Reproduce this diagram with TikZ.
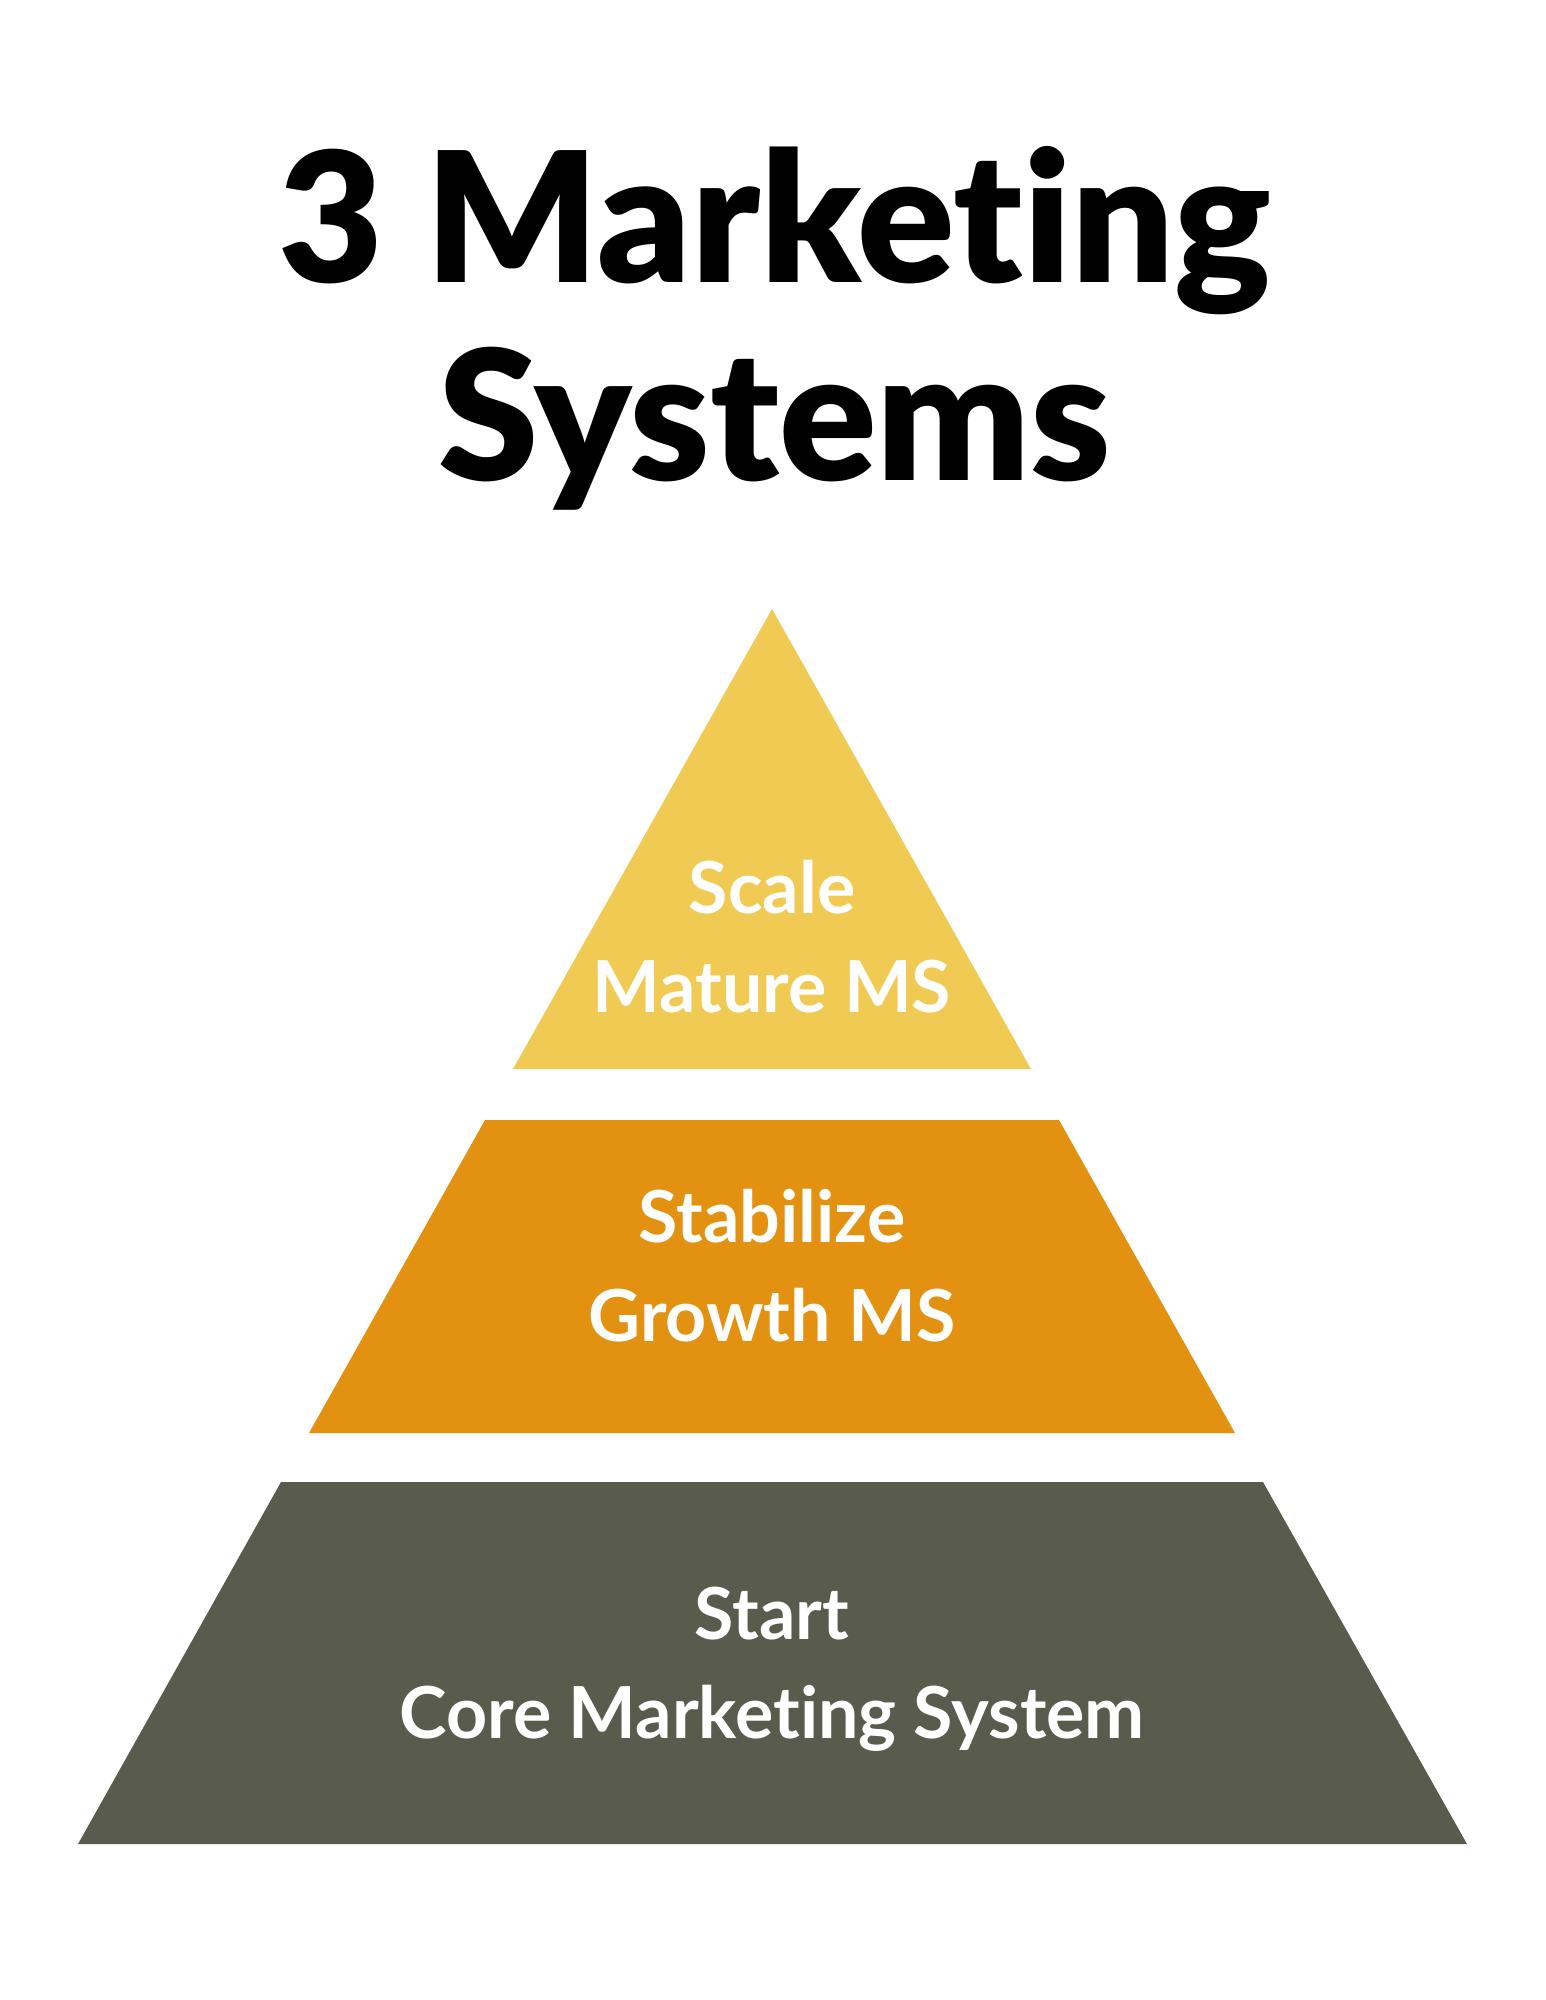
\documentclass[tikz,border=0pt]{standalone}
\usepackage{fontspec}
\setmainfont{Lato}[Ligatures=NoCommon]
\newfontfamily\titlefont{Lato Black}[Ligatures=NoCommon]

\definecolor{scaleyellow}{HTML}{F0CA53}
\definecolor{growthorange}{HTML}{E29110}
\definecolor{coregrey}{HTML}{595C4D}

\begin{document}
\begin{tikzpicture}[
  x=0.01cm, y=-0.01cm,
  title/.style={anchor=base, inner sep=0pt, font=\titlefont\fontsize{51.5}{56}\selectfont},
  label/.style={anchor=base, inner sep=0pt, text=white, font=\bfseries\fontsize{20.4}{28}\selectfont}
  ]
  \useasboundingbox (0,0) rectangle (1545,2000);

  % Title
  \node[title] (t1) at (775,282) {3 Marketing};
  \node[title] (t2) at (775,480) {Systems};

  % Pyramid levels
  \fill[scaleyellow] (772,609) -- (1031,1069) -- (513,1069) -- cycle;
  \fill[growthorange] (485,1120) -- (1059,1120) -- (1235,1433) -- (309,1433) -- cycle;
  \fill[coregrey] (281,1482) -- (1263,1482) -- (1467,1844) -- (78,1844) -- cycle;

  % Level labels
  \node[label] (s1) at (772,913) {Scale};
  \node[label] (s2) at (772,1012) {Mature MS};

  \node[label] (g1) at (772,1242) {Stabilize};
  \node[label] (g2) at (772,1341) {Growth MS};

  \node[label] (c1) at (772,1639) {Start};
  \node[label] (c2) at (772,1738) {Core Marketing System};

\end{tikzpicture}
\end{document}
